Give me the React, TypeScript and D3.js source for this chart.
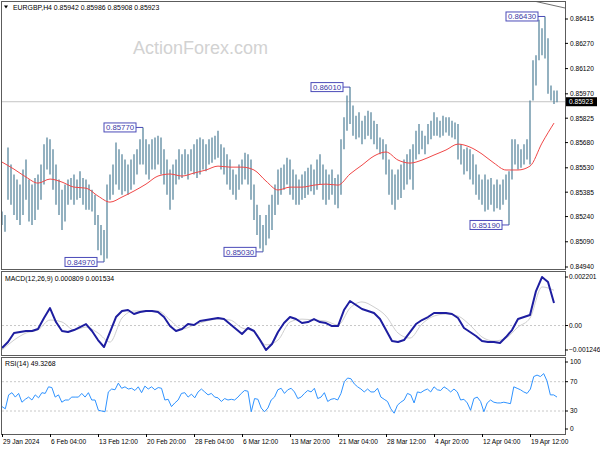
import React from "react";
import * as d3 from "d3";

// ---------- data ----------
const symbolTitle = "EURGBP,H4";
const ohlcHeader = ["0.85942", "0.85986", "0.85908", "0.85923"];
const lastPrice = 0.85923;

const tickLabels = [
  "29 Jan 2024", "6 Feb 04:00", "13 Feb 12:00", "20 Feb 20:00", "28 Feb 04:00", "6 Mar 12:00",
  "13 Mar 20:00", "21 Mar 04:00", "28 Mar 12:00", "4 Apr 20:00", "12 Apr 04:00", "19 Apr 12:00",
];
const barsPerTick = 16;

const priceTicks = [0.86415, 0.8627, 0.8612, 0.8597, 0.85825, 0.8568, 0.8553, 0.85385, 0.8524, 0.8509, 0.8494];

const highs = [
  0.8527, 0.8525, 0.8565, 0.8555, 0.8549, 0.8546, 0.8543, 0.8552, 0.8558, 0.8546,
  0.8543, 0.8547, 0.8549, 0.8555, 0.8567, 0.8571, 0.857, 0.8564, 0.8555, 0.8546,
  0.854, 0.8543, 0.8546, 0.8547, 0.8549, 0.8546, 0.8551, 0.8547, 0.8546, 0.8543,
  0.854, 0.8537, 0.8525, 0.8519, 0.8516, 0.8543, 0.8549, 0.8555, 0.8568, 0.8564,
  0.8561, 0.8558, 0.8555, 0.8558, 0.8561, 0.8564, 0.857, 0.8577, 0.857, 0.8567,
  0.857, 0.8571, 0.8572, 0.8571, 0.8564, 0.8558, 0.8552, 0.8555, 0.8558, 0.8564,
  0.8561, 0.8564, 0.8561, 0.8564, 0.8567, 0.857, 0.8571, 0.857, 0.8567, 0.857,
  0.8571, 0.8572, 0.8575, 0.8567, 0.8565, 0.8561, 0.8558, 0.8552, 0.8549, 0.8555,
  0.8558, 0.8562, 0.8561, 0.8558, 0.8543, 0.8531, 0.8525, 0.8519, 0.8525, 0.8531,
  0.8537, 0.8543, 0.8552, 0.8553, 0.8555, 0.8559, 0.8558, 0.8552, 0.8549, 0.8546,
  0.8549, 0.8551, 0.8553, 0.8555, 0.8552, 0.8558, 0.8561, 0.8555, 0.8552, 0.8549,
  0.8552, 0.8547, 0.8549, 0.857, 0.8583, 0.8596, 0.8601, 0.859, 0.8584, 0.8586,
  0.8581, 0.8584, 0.8587, 0.8586, 0.8581, 0.8579, 0.8571, 0.857, 0.8567, 0.8558,
  0.8552, 0.8549, 0.8552, 0.8555, 0.8558, 0.8561, 0.8564, 0.8567, 0.8575, 0.8579,
  0.8575, 0.8572, 0.8579, 0.8581, 0.8586, 0.8583, 0.8581, 0.8584, 0.8583, 0.8583,
  0.8581, 0.858, 0.8579, 0.8567, 0.8564, 0.8565, 0.8564, 0.8561, 0.8555, 0.8549,
  0.8546, 0.8549, 0.8546, 0.8547, 0.8543, 0.8546, 0.8543, 0.8546, 0.8549, 0.8551,
  0.857, 0.857, 0.8567, 0.8564, 0.8567, 0.857, 0.8593, 0.8617, 0.862, 0.8641,
  0.8636, 0.8643, 0.863, 0.8602, 0.8599, 0.8599,
];
const lows = [
  0.8519, 0.8515, 0.8534, 0.8531, 0.8525, 0.8522, 0.8519, 0.8525, 0.8534, 0.8521,
  0.8519, 0.8522, 0.8528, 0.8534, 0.8543, 0.8552, 0.8549, 0.854, 0.8531, 0.8525,
  0.8516, 0.8521, 0.8531, 0.8534, 0.8531, 0.8534, 0.8535, 0.8531, 0.8528, 0.8528,
  0.8527, 0.8519, 0.8504, 0.8501, 0.8497, 0.8499, 0.8534, 0.8537, 0.8543, 0.854,
  0.8537, 0.8539, 0.8537, 0.854, 0.8543, 0.8549, 0.8555, 0.8555, 0.8549, 0.8546,
  0.8552, 0.8552, 0.8555, 0.8549, 0.8543, 0.8537, 0.8528, 0.8534, 0.8543, 0.8546,
  0.8547, 0.8549, 0.8546, 0.8551, 0.8549, 0.8547, 0.8549, 0.8552, 0.8551, 0.8555,
  0.8556, 0.8558, 0.8559, 0.8552, 0.8549, 0.8543, 0.854, 0.8537, 0.8534, 0.854,
  0.8543, 0.8546, 0.8543, 0.8534, 0.8522, 0.8513, 0.8505, 0.8503, 0.8507, 0.8511,
  0.8516, 0.8525, 0.8531, 0.8537, 0.854, 0.8543, 0.8537, 0.8534, 0.8531, 0.8531,
  0.8534, 0.8535, 0.8537, 0.8539, 0.8537, 0.854, 0.8543, 0.8534, 0.8531, 0.8534,
  0.8537, 0.8531, 0.8529, 0.8537, 0.8564, 0.8575, 0.8579, 0.8572, 0.857, 0.8571,
  0.8567, 0.857, 0.8572, 0.857, 0.8567, 0.8564, 0.8561, 0.8558, 0.8549, 0.8537,
  0.8531, 0.8528, 0.8534, 0.8535, 0.854, 0.8543, 0.8546, 0.854, 0.8558, 0.8561,
  0.8564, 0.8561, 0.8567, 0.857, 0.8572, 0.8572, 0.8571, 0.8572, 0.8574, 0.8572,
  0.8571, 0.857, 0.8558, 0.8555, 0.8549, 0.8551, 0.8546, 0.8543, 0.8537, 0.8534,
  0.8531, 0.8527, 0.8528, 0.8531, 0.8527, 0.8529, 0.8528, 0.8531, 0.8534, 0.8519,
  0.8546, 0.8555, 0.8552, 0.8553, 0.8555, 0.8558, 0.8555, 0.8593, 0.8602, 0.8617,
  0.862, 0.8618, 0.8597, 0.8593, 0.8591, 0.8592,
];

// moving average, one value every 4 bars
const maStep = 4;
const maValues = [
  0.85564, 0.85522, 0.85475, 0.85439, 0.85463, 0.85445, 0.85415, 0.85409, 0.85362, 0.85326,
  0.85356, 0.85392, 0.85433, 0.85481, 0.85493, 0.85481, 0.85499, 0.85517, 0.8554, 0.85534,
  0.85534, 0.85517, 0.85451, 0.85398, 0.85415, 0.85415, 0.85427, 0.85433, 0.85427, 0.85493,
  0.85546, 0.856, 0.85624, 0.85576, 0.85558, 0.85576, 0.85606, 0.85636, 0.85671, 0.85653,
  0.85612, 0.85558, 0.85517, 0.85517, 0.8554, 0.85677, 0.85796,
];

// peak / trough labels
const peakBars = [34, 47, 87, 116, 169, 181];
const peakPrices = [0.8497, 0.8577, 0.8503, 0.8601, 0.8519, 0.8643];

// MACD (12,26,9), one value every 2 bars
const macdStep = 2;
const macdValues = [
  -0.00102, -0.000748, -0.00034, -0.000295, -0.000249, -0.000249, -0.000159, 0.00034, 0.000794, 0.000159,
  -0.000249, -0.000295, -0.000204, -0.000068, 0.000068, -0.000249, -0.000658, -0.000975, -0.000295, 0.000385,
  0.000658, 0.000703, 0.000522, 0.000612, 0.000658, 0.000658, 0.000612, 0.000385, -0.000023, -0.000249,
  -0.000159, 0.000068, 0.000023, 0.000204, 0.000249, 0.000295, 0.00034, 0.000295, 0.000068, -0.000159,
  -0.000385, -0.000113, -0.000249, -0.000658, -0.001111, -0.000839, -0.000295, 0.000113, 0.000385, 0.000295,
  0.000113, 0.000159, 0.000295, 0.000159, 0.000113, -0.000023, -0.000023, 0.000703, 0.001111, 0.00093,
  0.000748, 0.000658, 0.000567, 0.000295, -0.000204, -0.000703, -0.000748, -0.000658, -0.000295, 0.000068,
  0.000249, 0.000385, 0.000567, 0.000567, 0.000567, 0.000522, 0.00034, -0.000113, -0.000295, -0.000476,
  -0.000703, -0.000748, -0.000748, -0.000794, -0.000522, -0.000204, 0.000295, 0.000385, 0.000476, 0.001565,
  0.0022, 0.001973, 0.00102,
];
// signal line, one value every 4 bars
const signalStep = 4;
const signalValues = [
  -0.00111, -0.00066, -0.00034, -0.0002, 0.00025, 0.00016, -0.0002, -0.00007, -0.00034, -0.00075,
  0.00034, 0.00066, 0.00066, 0.00066, 0.00025, -0.00016, 0.00002, 0.0002, 0.00029, 0.00025,
  -0.00011, -0.00025, -0.00088, -0.00066, 0.00016, 0.00029, 0.00025, 0.0002, 0.00002, 0.00079,
  0.00107, 0.00084, 0.00043, -0.00034, -0.00057, 0.00007, 0.00043, 0.00052, 0.00043, 0.00002,
  -0.00052, -0.0007, -0.00057, -0.00007, 0.00034, 0.00175, 0.0016,
];
const macdMax = 0.002201;
const macdMin = -0.001246;
const macdHeader = ["0.000809", "0.001534"];

// RSI(14), evenly spread over the bars
const rsiValues = [
  36, 33, 52, 55, 49, 54, 42, 46, 49, 45, 52, 48, 55, 54, 63, 62, 49, 52, 42, 45,
  45, 49, 49, 49, 54, 49, 55, 45, 45, 31, 30, 29, 56, 60, 59, 68, 61, 63, 60, 61,
  58, 63, 55, 64, 60, 63, 59, 62, 61, 45, 46, 36, 41, 45, 54, 55, 49, 53, 48, 56,
  60, 56, 52, 54, 49, 48, 43, 47, 45, 46, 45, 49, 54, 58, 57, 29, 47, 46, 34, 29,
  34, 45, 49, 59, 61, 54, 59, 61, 56, 47,
  49, 54, 58, 56, 61, 47, 49, 55, 43, 46, 47, 45, 54, 70, 75, 74, 67, 63, 60, 56,
  60, 56, 56, 61, 49, 46, 43, 33, 27, 38, 42, 45, 54, 52, 41, 56, 55, 58, 60, 56,
  63, 59, 58, 63, 60, 56, 60, 56, 45, 46, 41, 31, 47, 49, 43, 29, 41, 45, 42, 41,
  41, 42, 41, 40, 63, 61, 59, 56, 54, 60, 77, 79, 77, 81, 71, 52, 52, 49,
];
const rsiLevels = [70, 30];
const rsiAxisLabels = [100, 70, 30, 0];
const rsiHeader = "49.3268";

// ---------- layout ----------
const LEFT = 2;
const RIGHT = 565;
const MAIN = { top: 1, bottom: 269 };
const MACDP = { top: 271, bottom: 355 };
const RSIP = { top: 357, bottom: 434 };
const FONT = "'Liberation Sans', Arial, sans-serif";

export default function App() {
  const n = highs.length;
  const x = d3.scaleLinear().domain([0, n - 1]).range([2, 557]);
  const yP = d3.scaleLinear().domain([0.8494, 0.86415]).range([267, 19]);
  const yM = d3.scaleLinear().domain([macdMin, macdMax]).range([353, 277]);
  const yR = d3.scaleLinear().domain([0, 100]).range([433, 359.7]);

  const maPath = d3.line<number>().x((_, i) => x(i * maStep)).y((v) => yP(v)).curve(d3.curveMonotoneX)(maValues) || "";
  const macdPath = d3.line<number>().x((_, i) => x(i * macdStep)).y((v) => yM(v))(macdValues) || "";
  const sigPath = d3.line<number>().x((_, i) => x(i * signalStep)).y((v) => yM(v)).curve(d3.curveMonotoneX)(signalValues) || "";
  const rsiPath =
    d3.line<number>().x((_, i) => x((i * (n - 1)) / (rsiValues.length - 1))).y((v) => yR(v))(rsiValues) || "";

  const clamp = (v: number, a: number, b: number) => Math.max(a, Math.min(b, v));
  const axisText = { fontFamily: FONT, fontSize: 6.6, fill: "#000" } as const;

  const fmt = d3.format(".5f");

  return (
    <svg
      width={600}
      height={450}
      style={{ position: "absolute", left: 0, top: 0, background: "#fff" }}
      xmlns="http://www.w3.org/2000/svg"
    >
      <rect x={0} y={0} width={600} height={450} fill="#fff" />

      {/* watermark */}
      <text x={133} y={54} fontFamily={FONT} fontSize={18} fill="#d2d2d2">
        ActionForex.com
      </text>

      {/* current price line */}
      <line x1={LEFT} x2={RIGHT} y1={yP(lastPrice)} y2={yP(lastPrice)} stroke="#c4c4c4" strokeWidth={1} />

      {/* price bars */}
      <g stroke="#5a879e" strokeWidth={1.3}>
        {highs.map((h, i) => (
          <line key={i} x1={x(i)} x2={x(i)} y1={yP(h)} y2={yP(lows[i])} />
        ))}
      </g>

      {/* moving average */}
      <path d={maPath} fill="none" stroke="#f04848" strokeWidth={1} />

      {/* peak labels */}
      {peakBars.map((b, k) => {
        const bx = x(b);
        const py = yP(peakPrices[k]);
        const w = 32;
        const rx = bx - 7 - w;
        return (
          <g key={k}>
            <line x1={rx + w} x2={bx} y1={py} y2={py} stroke="#4b4bb8" strokeWidth={1} />
            <rect x={rx} y={py - 4.5} width={w} height={9} fill="#fff" stroke="#4b4bb8" strokeWidth={1} />
            <text x={rx + w / 2} y={py + 3} textAnchor="middle" fontFamily={FONT} fontSize={7.8} fill="#3a3aa6">
              {fmt(peakPrices[k])}
            </text>
          </g>
        );
      })}

      {/* header */}
      <path d="M4,5.5 L8,5.5 L6,8.5 Z" fill="#000" />
      <text x={13} y={10} fontFamily={FONT} fontSize={6.9} fill="#000">
        {symbolTitle + "  " + ohlcHeader.join(" ")}
      </text>

      {/* chart-shift marker */}
      <line x1={536} y1={1.5} x2={565} y2={8} stroke="#707070" strokeWidth={1} />

      {/* MACD */}
      <line x1={LEFT} x2={RIGHT} y1={yM(0)} y2={yM(0)} stroke="#c8c8c8" strokeDasharray="2,2" />
      <path d={sigPath} fill="none" stroke="#cfcfcf" strokeWidth={1} />
      <path d={macdPath} fill="none" stroke="#1e1ea0" strokeWidth={2} strokeLinejoin="round" />
      <text x={5} y={281} fontFamily={FONT} fontSize={6.9} fill="#000">
        {"MACD(12,26,9) " + macdHeader.join(" ")}
      </text>

      {/* RSI */}
      {rsiLevels.map((l) => (
        <line key={l} x1={LEFT} x2={RIGHT} y1={yR(l)} y2={yR(l)} stroke="#c8c8c8" strokeDasharray="2,2" />
      ))}
      <path d={rsiPath} fill="none" stroke="#2f93ff" strokeWidth={1} />
      <text x={5} y={366} fontFamily={FONT} fontSize={6.9} fill="#000">
        {"RSI(14) " + rsiHeader}
      </text>

      {/* frames */}
      <g fill="none" stroke="#5c5c5c" strokeWidth={1}>
        <rect x={LEFT - 0.5} y={MAIN.top + 0.5} width={RIGHT - LEFT + 1} height={MAIN.bottom - MAIN.top} />
        <rect x={LEFT - 0.5} y={MACDP.top + 0.5} width={RIGHT - LEFT + 1} height={MACDP.bottom - MACDP.top} />
        <rect x={LEFT - 0.5} y={RSIP.top + 0.5} width={RIGHT - LEFT + 1} height={RSIP.bottom - RSIP.top} />
      </g>

      {/* price axis */}
      {priceTicks.map((p) => (
        <g key={p}>
          <line x1={RIGHT} x2={RIGHT + 3} y1={yP(p)} y2={yP(p)} stroke="#000" />
          <text x={570} y={yP(p) + 2.4} {...axisText}>
            {fmt(p)}
          </text>
        </g>
      ))}
      <rect x={566} y={yP(lastPrice) - 4.5} width={31} height={9} fill="#000" />
      <text x={569} y={yP(lastPrice) + 2.4} {...axisText} fill="#fff">
        {fmt(lastPrice)}
      </text>

      {/* MACD axis */}
      {[macdMax, 0, macdMin].map((v) => {
        const yy = clamp(yM(v), MACDP.top + 6, MACDP.bottom - 5);
        const label = v === 0 ? "0.00" : d3.format(".6f")(v);
        return (
          <g key={v}>
            <line x1={RIGHT} x2={RIGHT + 3} y1={yy} y2={yy} stroke="#000" />
            <text x={569} y={yy + 2.4} {...axisText}>
              {label}
            </text>
          </g>
        );
      })}

      {/* RSI axis */}
      {rsiAxisLabels.map((v) => {
        const yy = clamp(yR(v), RSIP.top + 5, RSIP.bottom - 5);
        return (
          <g key={v}>
            <line x1={RIGHT} x2={RIGHT + 3} y1={yy} y2={yy} stroke="#000" />
            <text x={570} y={yy + 2.4} {...axisText}>
              {v}
            </text>
          </g>
        );
      })}

      {/* time axis */}
      {tickLabels.map((t, k) => {
        const tx = Math.round(x(k * barsPerTick));
        return (
          <g key={t}>
            <line x1={tx + 0.5} x2={tx + 0.5} y1={RSIP.bottom} y2={RSIP.bottom + 3} stroke="#000" />
            <text x={tx + 1} y={444} {...axisText}>
              {t}
            </text>
          </g>
        );
      })}
    </svg>
  );
}
